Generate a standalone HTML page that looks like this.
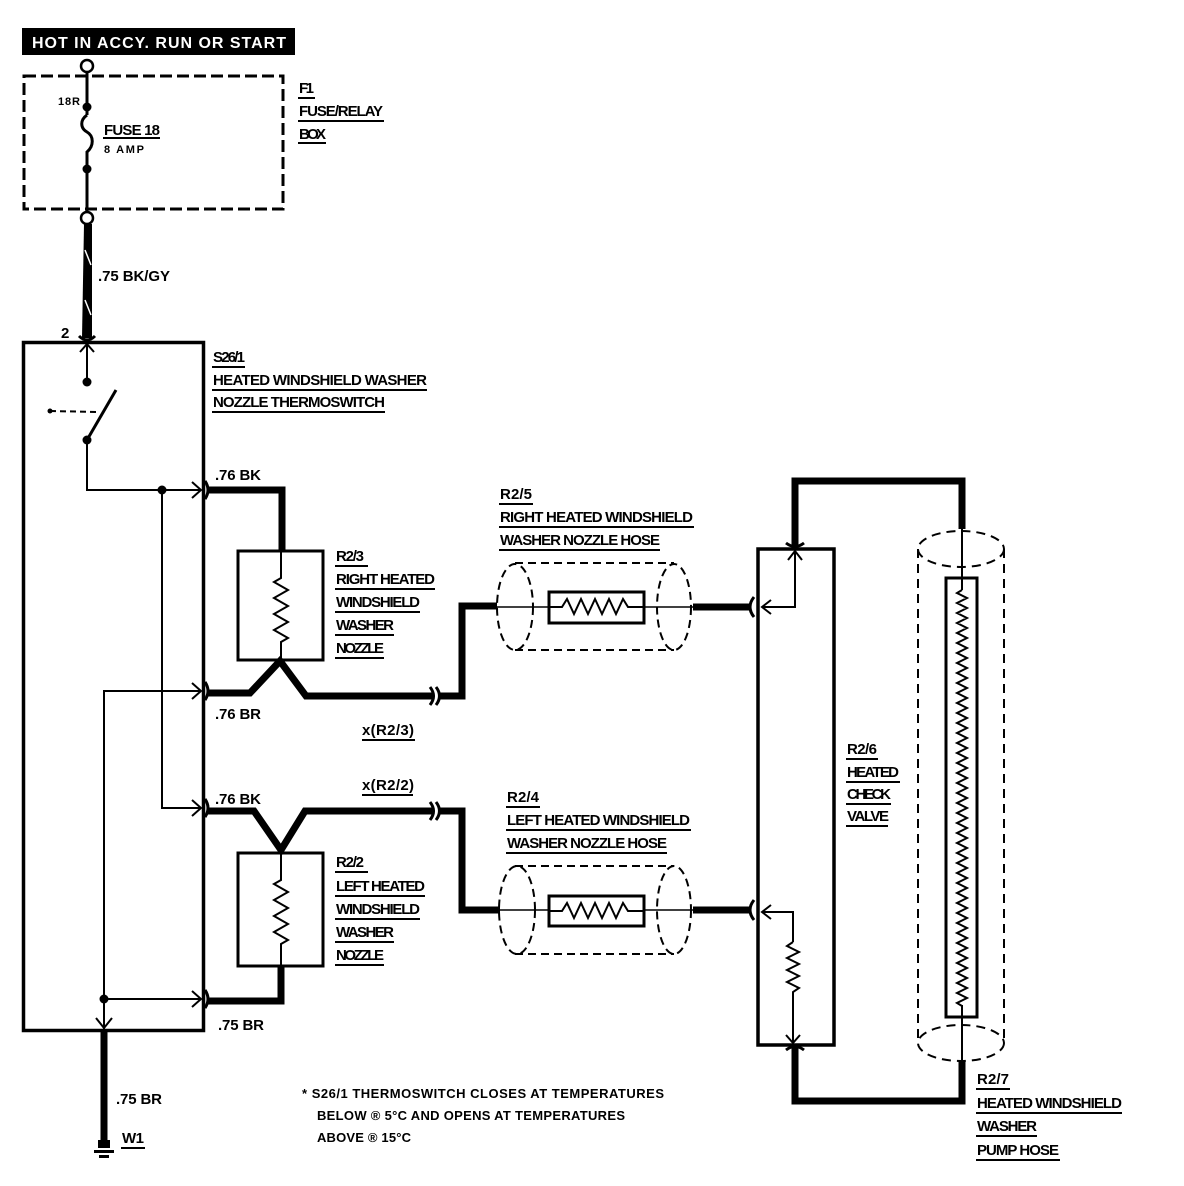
<!DOCTYPE html>
<html><head><meta charset="utf-8"><style>
html,body{margin:0;padding:0;background:#fff;}
svg{display:block;}
text{font-family:"Liberation Sans Narrow","Liberation Sans",sans-serif;font-weight:bold;font-size:15px;fill:#000;}
</style></head><body>
<svg width="1184" height="1186" viewBox="0 0 1184 1186" xmlns="http://www.w3.org/2000/svg">
<!-- title -->
<rect x="22" y="28" width="273" height="27" fill="#000"/>
<text x="32" y="48" style="fill:#fff;font-size:16px" textLength="254">HOT IN ACCY. RUN OR START</text>

<!-- F1 dashed box -->
<rect x="24" y="76" width="259" height="133" fill="none" stroke="#000" stroke-width="3" stroke-dasharray="12,5"/>
<circle cx="87" cy="66" r="6" fill="#fff" stroke="#000" stroke-width="2.5"/>
<circle cx="87" cy="218" r="6" fill="#fff" stroke="#000" stroke-width="2.5"/>
<line x1="87" y1="72" x2="87" y2="115" stroke="#000" stroke-width="3"/>
<path d="M87 115 C80 120,80 128,87 132 C94 136,94 146,87 152 L87 212" fill="none" stroke="#000" stroke-width="3"/>
<circle cx="87" cy="107" r="4.5"/><circle cx="87" cy="169" r="4.5"/>
<text x="58" y="105" style="font-size:11px" textLength="22">18R</text>
<text x="104" y="135" textLength="56">FUSE 18</text>
<line x1="103" y1="138" x2="160" y2="138" stroke="#000" stroke-width="2"/>
<text x="104" y="153" style="font-size:11px" textLength="40">8 AMP</text>
<text x="299" y="93" textLength="15">F1</text><line x1="298" y1="98" x2="315" y2="98" stroke="#000" stroke-width="2"/>
<text x="299" y="116" textLength="84">FUSE/RELAY</text><line x1="298" y1="121" x2="384" y2="121" stroke="#000" stroke-width="2"/>
<text x="299" y="139" textLength="27">BOX</text><line x1="298" y1="143" x2="326" y2="143" stroke="#000" stroke-width="2"/>

<!-- BK/GY wire -->
<path d="M84 224 L92 224 L92 338 L82 338 Z" fill="#000"/>
<line x1="85" y1="250" x2="91" y2="265" stroke="#fff" stroke-width="1.5"/>
<line x1="85" y1="300" x2="91" y2="315" stroke="#fff" stroke-width="1.5"/>
<text x="98" y="281" textLength="72">.75 BK/GY</text>
<text x="61" y="338">2</text>

<!-- S26/1 box -->
<rect x="23.5" y="342.5" width="180" height="688" fill="none" stroke="#000" stroke-width="3.5"/>
<path d="M79 336 Q87 344 95 336" fill="none" stroke="#000" stroke-width="3"/>
<path d="M80 352 L87 344 L94 352" fill="none" stroke="#000" stroke-width="2"/>
<line x1="87" y1="342" x2="87" y2="382" stroke="#000" stroke-width="2"/>
<circle cx="87" cy="382" r="4.5"/>
<line x1="50" y1="411" x2="98" y2="412" stroke="#000" stroke-width="2" stroke-dasharray="6,4"/>
<circle cx="50" cy="411" r="2.5"/>
<line x1="87" y1="440" x2="116" y2="390" stroke="#000" stroke-width="3"/>
<circle cx="87" cy="440" r="4.5"/>
<polyline points="87,440 87,490 200,490" fill="none" stroke="#000" stroke-width="2"/>
<circle cx="162" cy="490" r="4.5"/>
<polyline points="162,490 162,808 200,808" fill="none" stroke="#000" stroke-width="2"/>
<polyline points="104,1030 104,691 200,691" fill="none" stroke="#000" stroke-width="2"/>
<line x1="104" y1="999" x2="200" y2="999" stroke="#000" stroke-width="2"/>
<circle cx="104" cy="999" r="4.5"/>
<g fill="none" stroke="#000" stroke-width="2">
<path d="M192 482 L201 490 L192 498"/><path d="M192 683 L201 691 L192 699"/>
<path d="M192 800 L201 808 L192 816"/><path d="M192 991 L201 999 L192 1007"/>
<path d="M96 1018 L104 1028 L112 1018"/>
</g>
<g fill="none" stroke="#000" stroke-width="3">
<path d="M205 481 Q211 490 205 499"/><path d="M205 682 Q211 691 205 700"/>
<path d="M205 799 Q211 808 205 817"/><path d="M205 990 Q211 999 205 1008"/>
</g>
<text x="213" y="362" textLength="32">S26/1</text><line x1="212" y1="367" x2="245" y2="367" stroke="#000" stroke-width="2"/>
<text x="213" y="385" textLength="214">HEATED WINDSHIELD WASHER</text><line x1="212" y1="390" x2="427" y2="390" stroke="#000" stroke-width="2"/>
<text x="213" y="407" textLength="172">NOZZLE THERMOSWITCH</text><line x1="212" y1="412" x2="385" y2="412" stroke="#000" stroke-width="2"/>

<!-- thick wires left -->
<g fill="none" stroke="#000" stroke-width="7" stroke-linejoin="miter">
<polyline points="208,490 282,490 282,551"/>
<polyline points="208,693 250,693 280,661 306,696 432,696"/>
<polyline points="440,696 462,696 462,606 497,606"/>
<polyline points="208,811 254,811 281,850 305,811 432,811"/>
<polyline points="440,811 462,811 462,910 500,910"/>
<polyline points="208,1001 281,1001 281,967"/>
<line x1="104" y1="1032" x2="104" y2="1140"/>
<line x1="693" y1="607" x2="750" y2="607"/>
<line x1="693" y1="910" x2="750" y2="910"/>
<polyline points="795,547 795,481 962,481 962,529"/>
<polyline points="795,1048 795,1101 962,1101 962,1061"/>
</g>
<g fill="none" stroke="#000" stroke-width="3">
<path d="M430 687 Q437 696 430 705"/><path d="M436 687 Q443 696 436 705"/>
<path d="M430 802 Q437 811 430 820"/><path d="M436 802 Q443 811 436 820"/>
<path d="M754 597 Q746 607 754 617"/><path d="M754 900 Q746 910 754 920"/>
<path d="M786 543 Q795 550 804 543"/><path d="M786 1050 Q795 1043 804 1050"/>
</g>
<!-- ground -->
<rect x="98" y="1140" width="12" height="8"/>
<rect x="94" y="1150" width="20" height="3"/>
<rect x="99" y="1155" width="10" height="3"/>
<text x="116" y="1104" textLength="46">.75 BR</text>
<text x="122" y="1143" textLength="22">W1</text><line x1="121" y1="1148" x2="145" y2="1148" stroke="#000" stroke-width="2"/>

<text x="215" y="480" textLength="46">.76 BK</text>
<text x="215" y="719" textLength="46">.76 BR</text>
<text x="215" y="804" textLength="46">.76 BK</text>
<text x="218" y="1030" textLength="46">.75 BR</text>
<text x="362" y="735" textLength="52">x(R2/3)</text><line x1="362" y1="740" x2="415" y2="740" stroke="#000" stroke-width="2"/>
<text x="362" y="790" textLength="52">x(R2/2)</text><line x1="362" y1="795" x2="413" y2="795" stroke="#000" stroke-width="2"/>

<!-- R2/3 box -->
<rect x="238" y="551" width="85" height="109" fill="none" stroke="#000" stroke-width="3"/>
<path d="M281 551 L281 578 L274 582 L288 590 L274 598 L288 606 L274 614 L288 622 L274 630 L288 638 L281 642 L281 661" fill="none" stroke="#000" stroke-width="2"/>
<!-- R2/2 box -->
<rect x="238" y="853" width="85" height="113" fill="none" stroke="#000" stroke-width="3"/>
<path d="M281 853 L281 880 L274 884 L288 892 L274 900 L288 908 L274 916 L288 924 L274 932 L288 940 L281 944 L281 966" fill="none" stroke="#000" stroke-width="2"/>
<text x="336" y="561" textLength="28">R2/3</text><line x1="335" y1="566" x2="368" y2="566" stroke="#000" stroke-width="2"/>
<text x="336" y="584" textLength="99">RIGHT HEATED</text><line x1="335" y1="589" x2="435" y2="589" stroke="#000" stroke-width="2"/>
<text x="336" y="607" textLength="84">WINDSHIELD</text><line x1="335" y1="612" x2="420" y2="612" stroke="#000" stroke-width="2"/>
<text x="336" y="630" textLength="58">WASHER</text><line x1="335" y1="635" x2="394" y2="635" stroke="#000" stroke-width="2"/>
<text x="336" y="653" textLength="48">NOZZLE</text><line x1="335" y1="658" x2="384" y2="658" stroke="#000" stroke-width="2"/>
<text x="336" y="867" textLength="28">R2/2</text><line x1="335" y1="872" x2="368" y2="872" stroke="#000" stroke-width="2"/>
<text x="336" y="891" textLength="89">LEFT HEATED</text><line x1="335" y1="896" x2="425" y2="896" stroke="#000" stroke-width="2"/>
<text x="336" y="914" textLength="84">WINDSHIELD</text><line x1="335" y1="919" x2="420" y2="919" stroke="#000" stroke-width="2"/>
<text x="336" y="937" textLength="58">WASHER</text><line x1="335" y1="942" x2="394" y2="942" stroke="#000" stroke-width="2"/>
<text x="336" y="960" textLength="48">NOZZLE</text><line x1="335" y1="965" x2="384" y2="965" stroke="#000" stroke-width="2"/>

<!-- hoses -->
<g fill="none" stroke="#000" stroke-width="2" stroke-dasharray="8,5">
<line x1="515" y1="563" x2="674" y2="563"/><line x1="515" y1="650" x2="674" y2="650"/>
<ellipse cx="515" cy="607" rx="18" ry="43"/><ellipse cx="674" cy="607" rx="17" ry="43"/>
<line x1="515" y1="866" x2="674" y2="866"/><line x1="515" y1="954" x2="674" y2="954"/>
<ellipse cx="517" cy="910" rx="18" ry="44"/><ellipse cx="674" cy="910" rx="17" ry="44"/>
</g>
<g fill="none" stroke="#000" stroke-width="1.5">
<line x1="497" y1="607" x2="693" y2="607"/><line x1="497" y1="910" x2="693" y2="910"/>
</g>
<rect x="549" y="592" width="95" height="31" fill="#fff" stroke="#000" stroke-width="3"/>
<rect x="549" y="896" width="95" height="30" fill="#fff" stroke="#000" stroke-width="3"/>
<path d="M549 607 L562 607 L567 599 L574 614 L581 599 L588 614 L595 599 L602 614 L609 599 L616 614 L623 599 L628 607 L644 607" fill="none" stroke="#000" stroke-width="2"/>
<path d="M549 911 L562 911 L567 903 L574 918 L581 903 L588 918 L595 903 L602 918 L609 903 L616 918 L623 903 L628 911 L644 911" fill="none" stroke="#000" stroke-width="2"/>
<text x="500" y="499" textLength="32">R2/5</text><line x1="499" y1="504" x2="533" y2="504" stroke="#000" stroke-width="2"/>
<text x="500" y="522" textLength="193">RIGHT HEATED WINDSHIELD</text><line x1="499" y1="527" x2="694" y2="527" stroke="#000" stroke-width="2"/>
<text x="500" y="545" textLength="160">WASHER NOZZLE HOSE</text><line x1="499" y1="550" x2="660" y2="550" stroke="#000" stroke-width="2"/>
<text x="507" y="802" textLength="32">R2/4</text><line x1="506" y1="807" x2="540" y2="807" stroke="#000" stroke-width="2"/>
<text x="507" y="825" textLength="183">LEFT HEATED WINDSHIELD</text><line x1="506" y1="830" x2="691" y2="830" stroke="#000" stroke-width="2"/>
<text x="507" y="848" textLength="160">WASHER NOZZLE HOSE</text><line x1="506" y1="853" x2="667" y2="853" stroke="#000" stroke-width="2"/>

<!-- check valve -->
<rect x="758" y="549" width="76" height="496" fill="none" stroke="#000" stroke-width="3.5"/>
<polyline points="795,551 795,607 762,607" fill="none" stroke="#000" stroke-width="2"/>
<path d="M788 560 L795 551 L802 560" fill="none" stroke="#000" stroke-width="2"/>
<path d="M771 600 L762 607 L771 614" fill="none" stroke="#000" stroke-width="2"/>
<polyline points="762,912 793,912 793,942" fill="none" stroke="#000" stroke-width="2"/>
<path d="M771 905 L762 912 L771 919" fill="none" stroke="#000" stroke-width="2"/>
<path d="M793 942 L787 946 L799 952 L787 958 L799 964 L787 970 L799 976 L787 982 L799 988 L793 992 L793 1043" fill="none" stroke="#000" stroke-width="2"/>
<path d="M786 1035 L793 1043 L800 1035" fill="none" stroke="#000" stroke-width="2"/>
<text x="847" y="754" textLength="30">R2/6</text><line x1="846" y1="759" x2="878" y2="759" stroke="#000" stroke-width="2"/>
<text x="847" y="777" textLength="52">HEATED</text><line x1="846" y1="782" x2="900" y2="782" stroke="#000" stroke-width="2"/>
<text x="847" y="799" textLength="44">CHECK</text><line x1="846" y1="804" x2="891" y2="804" stroke="#000" stroke-width="2"/>
<text x="847" y="821" textLength="42">VALVE</text><line x1="846" y1="826" x2="888" y2="826" stroke="#000" stroke-width="2"/>

<!-- pump hose cylinder -->
<g fill="none" stroke="#000" stroke-width="2" stroke-dasharray="9,6">
<ellipse cx="961" cy="549" rx="43" ry="18"/><ellipse cx="961" cy="1043" rx="43" ry="18"/>
<line x1="918" y1="549" x2="918" y2="1043"/><line x1="1004" y1="549" x2="1004" y2="1043"/>
</g>
<line x1="962" y1="529" x2="962" y2="590" stroke="#000" stroke-width="2"/>
<line x1="962" y1="1005" x2="962" y2="1061" stroke="#000" stroke-width="2"/>
<rect x="946" y="578" width="31" height="439" fill="none" stroke="#000" stroke-width="3"/>
<path id="zz" fill="none" stroke="#000" stroke-width="2" d="M962 590 l-5 3 l10 5 l-10 5 l10 5 l-10 5 l10 5 l-10 5 l10 5 l-10 5 l10 5 l-10 5 l10 5 l-10 5 l10 5 l-10 5 l10 5 l-10 5 l10 5 l-10 5 l10 5 l-10 5 l10 5 l-10 5 l10 5 l-10 5 l10 5 l-10 5 l10 5 l-10 5 l10 5 l-10 5 l10 5 l-10 5 l10 5 l-10 5 l10 5 l-10 5 l10 5 l-10 5 l10 5 l-10 5 l10 5 l-10 5 l10 5 l-10 5 l10 5 l-10 5 l10 5 l-10 5 l10 5 l-10 5 l10 5 l-10 5 l10 5 l-10 5 l10 5 l-10 5 l10 5 l-10 5 l10 5 l-10 5 l10 5 l-10 5 l10 5 l-10 5 l10 5 l-10 5 l10 5 l-10 5 l10 5 l-10 5 l10 5 l-10 5 l10 5 l-10 5 l10 5 l-10 5 l10 5 l-10 5 l10 5 l-10 5 l10 5 l-10 5 l5 3 l0 6"/>
<text x="977" y="1084" textLength="32">R2/7</text><line x1="976" y1="1089" x2="1010" y2="1089" stroke="#000" stroke-width="2"/>
<text x="977" y="1108" textLength="145">HEATED WINDSHIELD</text><line x1="976" y1="1113" x2="1122" y2="1113" stroke="#000" stroke-width="2"/>
<text x="977" y="1131" textLength="60">WASHER</text><line x1="976" y1="1136" x2="1037" y2="1136" stroke="#000" stroke-width="2"/>
<text x="977" y="1155" textLength="82">PUMP HOSE</text><line x1="976" y1="1160" x2="1060" y2="1160" stroke="#000" stroke-width="2"/>

<!-- footnote -->
<text x="302" y="1098" style="font-size:13px" textLength="362">* S26/1 THERMOSWITCH CLOSES AT TEMPERATURES</text>
<text x="317" y="1120" style="font-size:13px" textLength="308">BELOW ® 5°C AND OPENS AT TEMPERATURES</text>
<text x="317" y="1142" style="font-size:13px" textLength="94">ABOVE ® 15°C</text>
</svg>
</body></html>
